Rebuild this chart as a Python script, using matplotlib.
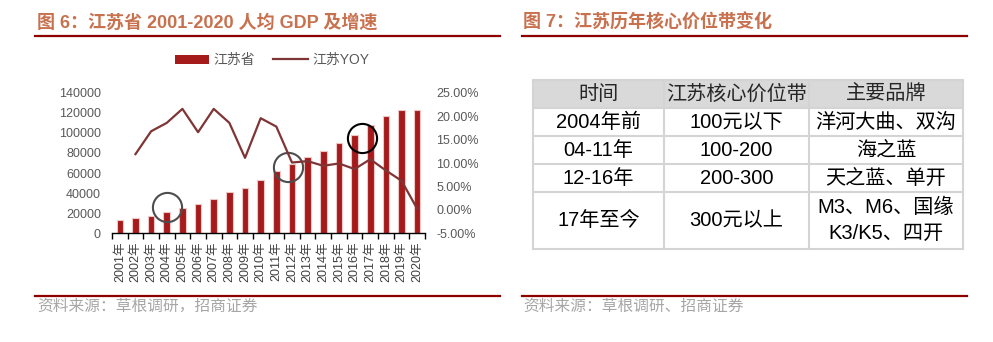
import numpy as np
import matplotlib
matplotlib.use("Agg")
import matplotlib.pyplot as plt
from matplotlib.lines import Line2D
from matplotlib.patches import Patch, Rectangle
from matplotlib.ticker import FuncFormatter, FixedLocator

plt.rcParams['font.family'] = ['Liberation Sans', 'Noto Sans CJK SC']

# data: Jiangsu GDP per capita (yuan) and yoy growth
years = [f"{y}年" for y in range(2001, 2021)]
gdp = [13300, 14900, 17300, 20600, 24600, 28600, 34200, 40500, 45200, 53400,
       62400, 68700, 75600, 82300, 90200, 97900, 107900, 116800, 123400, 122800]
yoy = [0.119, 0.168, 0.186, 0.216, 0.166, 0.216, 0.186, 0.111, 0.196,
       0.178, 0.101, 0.104, 0.094, 0.099, 0.087, 0.108, 0.084, 0.062, 0.002]

# hand-drawn highlight circles (category position, value on left axis, colour)
highlights = [(3, 25900, '#4d4d4d'), (10.73, 66100, '#4d4d4d'), (15.5, 95200, '#000000')]

# table of price bands
table_header = ["时间", "江苏核心价位带", "主要品牌"]
table_period = ["2004年前", "04-11年", "12-16年", "17年至今"]
table_band = ["100元以下", "100-200", "200-300", "300元以上"]
table_brand = ["洋河大曲、双沟", "海之蓝", "天之蓝、单开", "M3、M6、国缘\nK3/K5、四开"]
row_units = [1, 1, 1, 2]

bar_color = '#A51B1B'
line_color = '#7F3535'
title_color = '#C8714F'
rule_color = '#8E0000'
grey = '#595959'

W, H = 993, 342
fig = plt.figure(figsize=(W / 100, H / 100), dpi=100)

def fx(px):
    return px / W

def fy(py):
    return 1 - py / H

# titles and rules
fig.text(fx(37), fy(23), "图 6：江苏省 2001-2020 人均 GDP 及增速", color=title_color,
         fontsize=13, fontweight='bold', va='center', ha='left')
fig.text(fx(523), fy(23), "图 7：江苏历年核心价位带变化", color=title_color,
         fontsize=13, fontweight='bold', va='center', ha='left')
for x0, x1 in [(35, 500), (522, 967)]:
    for yy in (35.5, 295.5):
        fig.add_artist(Line2D([fx(x0), fx(x1)], [fy(yy), fy(yy)], color=rule_color, lw=1.6))
fig.text(fx(37), fy(306), "资料来源：草根调研，招商证券", color='#A6A6A6', fontsize=11.3, va='center')
fig.text(fx(523), fy(306), "资料来源：草根调研、招商证券", color='#A6A6A6', fontsize=11.3, va='center')

# left chart
ax1 = fig.add_axes([fx(112), fy(233), fx(425) - fx(112), fy(93) - fy(233)])
x = np.arange(len(years))
ax1.bar(x, gdp, width=0.42, color=bar_color, edgecolor='#EFC6C6', linewidth=0.8, zorder=2)
ax1.set_xlim(-0.5, len(years) - 0.5)
ax1.set_ylim(0, 140000)
ax1.set_yticks(np.arange(0, 140001, 20000))
ax1.tick_params(axis='y', length=0, pad=8, labelsize=9, labelcolor=grey)
ax1.set_xticks(x)
ax1.set_xticklabels(years, rotation=90, fontsize=9, color='#404040')
ax1.tick_params(axis='x', which='major', length=0, pad=6)
ax1.xaxis.set_minor_locator(FixedLocator(np.arange(-0.5, len(years), 1)))
ax1.tick_params(axis='x', which='minor', length=4, width=1, direction='out', color='black')
for s in ['top', 'right', 'left']:
    ax1.spines[s].set_visible(False)
ax1.spines['bottom'].set_linewidth(1)

ax2 = ax1.twinx()
ax2.plot(x[1:], yoy, color=line_color, lw=1.6, zorder=3)
ax2.set_ylim(-0.05, 0.25)
ax2.set_yticks(np.arange(-0.05, 0.2501, 0.05))
ax2.yaxis.set_major_formatter(FuncFormatter(lambda v, p: f"{v * 100:.2f}%"))
ax2.tick_params(axis='y', length=0, pad=8, labelsize=9, labelcolor=grey)
for s in ax2.spines.values():
    s.set_visible(False)

for hx, hy, hc in highlights:
    ax1.plot(hx, hy, marker='o', ms=21, mfc='none', mec=hc, mew=1.5, zorder=5, clip_on=False)

handles = [Patch(facecolor=bar_color, edgecolor='none'), Line2D([], [], color=line_color, lw=1.6)]
fig.legend(handles, ["江苏省", "江苏YOY"], loc='center', bbox_to_anchor=(fx(272), fy(60)),
           ncol=2, frameon=False, fontsize=10, labelcolor=grey, handlelength=2.5,
           handletextpad=0.3, columnspacing=1.3, handleheight=0.6)

# right table
axt = fig.add_axes([fx(533), fy(248.5), fx(963) - fx(533), fy(80) - fy(248.5)])
total = 1 + sum(row_units)
axt.set_xlim(0, 430)
axt.set_ylim(total, 0)
axt.axis('off')
col_edges = [0, 131, 276, 430]
line_c = '#D4D4D4'

axt.add_patch(Rectangle((0, 0), 430, 1, facecolor='#D9D9D9', edgecolor='none'))
for j, h in enumerate(table_header):
    axt.text((col_edges[j] + col_edges[j + 1]) / 2, 0.5, h, ha='center', va='center',
             fontsize=14.5, color='#262626')
top = 1
for i, u in enumerate(row_units):
    cells = [table_period[i], table_band[i], table_brand[i]]
    for j, t in enumerate(cells):
        axt.text((col_edges[j] + col_edges[j + 1]) / 2, top + u / 2, t, ha='center', va='center',
                 fontsize=14.5, color='black', linespacing=1.45)
    top += u

# grid lines
yy = np.cumsum([0, 1] + row_units)
for v in yy:
    axt.plot([0, 430], [v, v], color=line_c, lw=1.5, clip_on=False)
for c in col_edges:
    axt.plot([c, c], [0, total], color=line_c, lw=1.5, clip_on=False)

plt.savefig('out.png', dpi=100)
